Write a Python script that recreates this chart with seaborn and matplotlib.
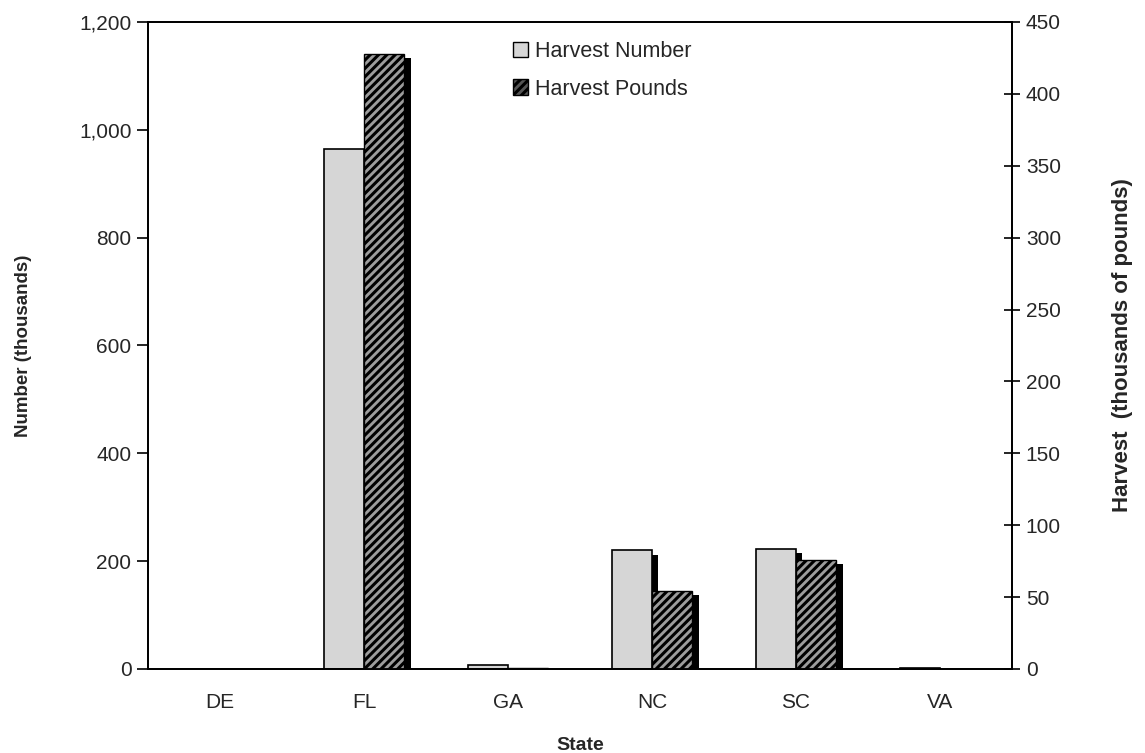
import numpy as np
import pandas as pd
import matplotlib
matplotlib.use("Agg")
import matplotlib.pyplot as plt
import matplotlib.patheffects as pe
from matplotlib.patches import Patch
from matplotlib.ticker import FuncFormatter, MultipleLocator
import seaborn as sns

states = ["DE", "FL", "GA", "NC", "SC", "VA"]
harvest_number = [0.5, 965, 8, 220, 222, 1]      # thousands of fish
harvest_pounds = [0.2, 428, 0.5, 54, 76, 0.2]    # thousands of pounds

sns.set_theme(style="white")
plt.rcParams['font.family'] = ['Liberation Sans', 'DejaVu Sans']
plt.rcParams['hatch.linewidth'] = 2.2

n = len(states)
df = pd.DataFrame({
    "State": states * 2,
    "series": ["Harvest Number"] * n + ["Harvest Pounds"] * n,
    "number": harvest_number + [np.nan] * n,
    "pounds": [np.nan] * n + harvest_pounds,
})
order = ["Harvest Number", "Harvest Pounds"]

fig = plt.figure(figsize=(11.45, 7.53), dpi=100)
ax = fig.add_axes([0.1293, 0.1116, 0.7545, 0.8592])
ax2 = ax.twinx()

sns.barplot(data=df, x="State", y="number", hue="series", hue_order=order,
            palette=["#d6d6d6", "#d6d6d6"], edgecolor="black", linewidth=1.2,
            width=0.56, errorbar=None, legend=False, ax=ax)
sns.barplot(data=df, x="State", y="pounds", hue="series", hue_order=order,
            palette=["#9c9c9c", "#9c9c9c"], edgecolor="black", linewidth=1.0,
            width=0.56, errorbar=None, legend=False, ax=ax2)

for p in ax.patches:
    p.set_path_effects([pe.SimplePatchShadow(offset=(4, -3), shadow_rgbFace="black", alpha=1.0), pe.Normal()])
for p in ax2.patches:
    p.set_hatch("////")
    p.set_path_effects([pe.SimplePatchShadow(offset=(5, -3), shadow_rgbFace="black", alpha=1.0), pe.Normal()])

ax.set_ylim(0, 1200)
ax2.set_ylim(0, 450)
ax.set_xlim(-0.5, n - 0.5)
ax.yaxis.set_major_locator(MultipleLocator(200))
ax2.yaxis.set_major_locator(MultipleLocator(50))
ax.yaxis.set_major_formatter(FuncFormatter(lambda v, _: f"{int(v):,}"))

# x ticks sit between categories, labels at category centres
ax.set_xticks(np.arange(n))
ax.set_xticklabels(states)
ax.set_xticks(np.arange(n + 1) - 0.5, minor=True)
ax.tick_params(axis="x", which="major", length=0, labelsize=15, pad=17)
ax.tick_params(axis="x", which="minor", length=6, direction="out", width=1.2, color="black")

ax.tick_params(axis="y", length=8, direction="out", width=1.2, color="black", labelsize=15, pad=4)
ax2.tick_params(axis="y", length=12, direction="inout", width=1.2, color="black", labelsize=15, pad=4)
ax.tick_params(left=True)
ax2.tick_params(right=True)

for a in (ax, ax2):
    for s in a.spines.values():
        s.set_color("black")
        s.set_linewidth(1.3)
    a.set_facecolor("none")

ax.set_xlabel("State", fontsize=14, fontweight="bold", labelpad=18)
ax.set_ylabel("Number (thousands)", fontsize=13.5, fontweight="bold", labelpad=34)
ax2.set_ylabel("Harvest  (thousands of pounds)", fontsize=16, fontweight="bold", labelpad=37)

handles = [
    Patch(facecolor="#d6d6d6", edgecolor="black", label="Harvest Number"),
    Patch(facecolor="#555555", edgecolor="black", hatch="////", label="Harvest Pounds"),
]
ax.legend(handles=handles, loc="upper left", bbox_to_anchor=(0.4, 1.0), frameon=False,
          fontsize=15.5, handlelength=0.7, handleheight=0.7, handletextpad=0.3,
          labelspacing=0.75)

fig.savefig("out.png", dpi=100)
